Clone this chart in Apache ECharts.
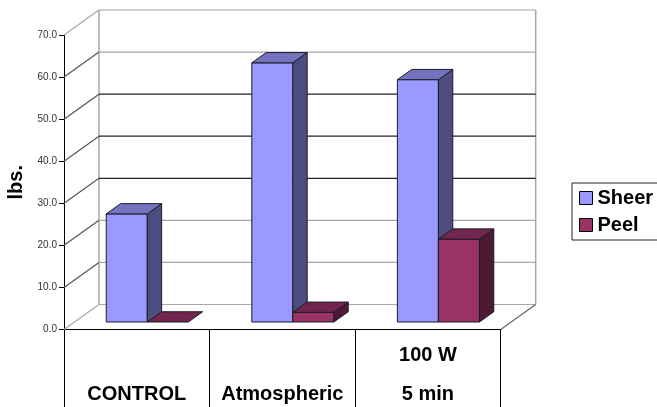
<!DOCTYPE html>
<html><head><meta charset="utf-8">
<script src="https://cdn.jsdelivr.net/npm/echarts@6/dist/echarts.min.js"></script>
<style>html,body{margin:0;padding:0;background:#fff}#c{width:657px;height:407px}</style>
</head><body><div id="c"></div>
<script>
// ---- data ----
const categories = ['CONTROL', 'Atmospheric', '100 W\n5 min'];
const sheer = [25.7, 61.6, 57.6];
const peel = [0, 2.3, 19.7];
const yTicks = [0, 10, 20, 30, 40, 50, 60, 70];
const seriesNames = ['Sheer', 'Peel'];

// ---- styling / projection ----
const DEPTH = [35, -25];
const BAR_D0 = 0.3, BAR_D1 = 0.71, BAR_W = 0.282;
const COLORS = ['#9999FF', '#993366'];
const DARK_BACK = new Set([30, 40, 50]);

function shade(hex, f) {
  const n = parseInt(hex.slice(1), 16);
  const r = Math.round(((n >> 16) & 255) * f), g = Math.round(((n >> 8) & 255) * f), b = Math.round((n & 255) * f);
  return 'rgb(' + r + ',' + g + ',' + b + ')';
}

function barRender(sIdx) {
  const col = COLORS[sIdx];
  return function (params, api) {
    const i = api.value(0), v = api.value(1);
    const band = api.size([1, 0])[0];
    const c = api.coord([i, v]);
    const b = api.coord([i, 0]);
    const w = band * BAR_W;
    const ox = DEPTH[0] * BAR_D0, oy = DEPTH[1] * BAR_D0;
    const dx = DEPTH[0] * (BAR_D1 - BAR_D0), dy = DEPTH[1] * (BAR_D1 - BAR_D0);
    const xl = c[0] - w + sIdx * w + ox, xr = xl + w;
    const yt = c[1] + oy, yb = b[1] + oy;
    const stroke = '#1c1c28';
    const children = [];
    if (yb - yt > 0.3) {
      children.push({ type: 'rect', shape: { x: xl, y: yt, width: w, height: yb - yt },
        style: { fill: col, stroke: stroke, lineWidth: 1 } });
      children.push({ type: 'polygon', shape: { points: [[xr, yt], [xr + dx, yt + dy], [xr + dx, yb + dy], [xr, yb]] },
        style: { fill: shade(col, 0.5), stroke: stroke, lineWidth: 1, lineJoin: 'round' } });
    }
    children.push({ type: 'polygon', shape: { points: [[xl, yt], [xr, yt], [xr + dx, yt + dy], [xl + dx, yt + dy]] },
      style: { fill: shade(col, 0.75), stroke: stroke, lineWidth: 1, lineJoin: 'round' } });
    return { type: 'group', children: children };
  };
}

function frameRender(params, api) {
  const cs = params.coordSys;
  const v = api.value(1);
  const y = api.coord([0, v])[1];
  const x0 = cs.x, x1 = cs.x + cs.width;
  const gray = '#a8a8a8';
  const ch = [];
  const diagCol = (v === 0 || v === 70) ? gray : '#555';
  const backCol = DARK_BACK.has(v) ? '#222' : gray;
  ch.push({ type: 'line', shape: { x1: x0, y1: y, x2: x0 + DEPTH[0], y2: y + DEPTH[1] }, style: { stroke: diagCol, lineWidth: 1.2 } });
  ch.push({ type: 'line', shape: { x1: x0 + DEPTH[0], y1: y + DEPTH[1], x2: x1 + DEPTH[0], y2: y + DEPTH[1] }, style: { stroke: backCol, lineWidth: 1.2 } });
  if (params.dataIndex === 0) {
    const yTop = cs.y, yBot = cs.y + cs.height;
    ch.push({ type: 'line', shape: { x1: x0 + DEPTH[0], y1: yTop + DEPTH[1], x2: x0 + DEPTH[0], y2: yBot + DEPTH[1] }, style: { stroke: gray, lineWidth: 1.5 } });
    ch.push({ type: 'line', shape: { x1: x1 + DEPTH[0], y1: yTop + DEPTH[1], x2: x1 + DEPTH[0], y2: yBot + DEPTH[1] }, style: { stroke: gray, lineWidth: 1.5 } });
    ch.push({ type: 'line', shape: { x1: x1, y1: yBot, x2: x1 + DEPTH[0], y2: yBot + DEPTH[1] }, style: { stroke: '#666', lineWidth: 1.2 } });
  }
  return { type: 'group', children: ch };
}

const chart = echarts.init(document.getElementById('c'), null, { renderer: 'canvas' });
chart.setOption({
  animation: false,
  backgroundColor: '#fff',
  grid: { left: 64, right: 156.3, top: 35, bottom: 77.5, containLabel: false, outerBoundsMode: 'none' },
  legend: {
    orient: 'vertical', left: 572, top: 183,
    padding: [5, 30, 5, 7], itemGap: 7, itemWidth: 13, itemHeight: 13,
    borderColor: '#222', borderWidth: 1,
    data: seriesNames.map(n => ({ name: n, icon: 'rect' })),
    itemStyle: { borderColor: '#000', borderWidth: 1 },
    textStyle: { fontFamily: 'Liberation Sans, Arial, sans-serif', fontWeight: 'bold', fontSize: 20, color: '#000' }
  },
  xAxis: {
    type: 'category', data: categories, boundaryGap: true,
    axisLine: { lineStyle: { color: '#000', width: 1 } },
    axisTick: { show: true, interval: 0, length: 78, lineStyle: { color: '#000', width: 1 } },
    axisLabel: {
      interval: 0, margin: 84, verticalAlign: 'bottom', lineHeight: 39,
      fontFamily: 'Liberation Sans, Arial, sans-serif', fontWeight: 'bold', fontSize: 20, color: '#000'
    },
    splitLine: { show: false }
  },
  yAxis: {
    type: 'value', min: 0, max: 70, interval: 10,
    name: 'lbs.', nameLocation: 'middle', nameGap: 32,
    nameTextStyle: { fontFamily: 'Liberation Sans, Arial, sans-serif', fontWeight: 'bold', fontSize: 20, color: '#000' },
    axisLine: { show: true, lineStyle: { color: '#000', width: 1 } },
    axisTick: { show: true, length: 5, lineStyle: { color: '#000' } },
    axisLabel: { margin: 7, fontSize: 10, color: '#333', fontFamily: 'Liberation Sans, Arial, sans-serif', formatter: v => v.toFixed(1) },
    splitLine: { show: false }
  },
  series: [
    { type: 'custom', name: '__frame', silent: true, z: 1, clip: false,
      renderItem: frameRender, encode: { x: 0, y: 1 },
      data: yTicks.map(v => [0, v]) },
    { type: 'custom', name: seriesNames[0], z: 3, clip: false, itemStyle: { color: COLORS[0] },
      renderItem: barRender(0), encode: { x: 0, y: 1 },
      data: sheer.map((v, i) => [i, v]) },
    { type: 'custom', name: seriesNames[1], z: 4, clip: false, itemStyle: { color: COLORS[1] },
      renderItem: barRender(1), encode: { x: 0, y: 1 },
      data: peel.map((v, i) => [i, v]) }
  ]
});
</script></body></html>
